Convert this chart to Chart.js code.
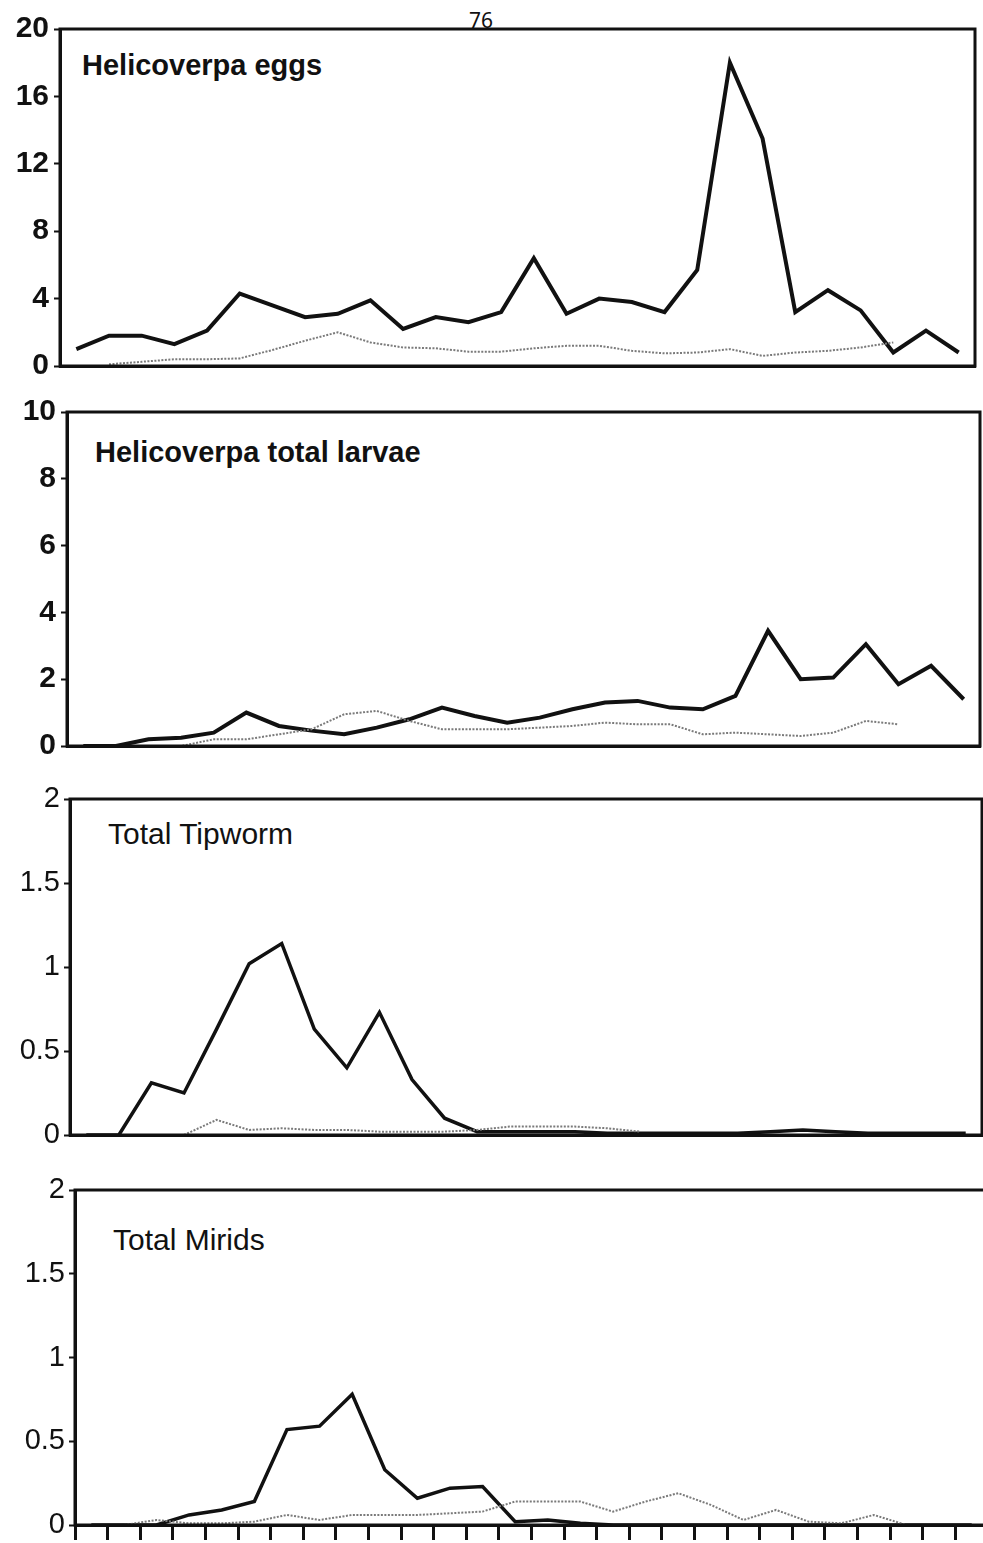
<!DOCTYPE html>
<html>
<head>
<meta charset="utf-8">
<script src="https://cdn.jsdelivr.net/npm/chart.js@4.4.1/dist/chart.umd.min.js"></script>
<style>
  html, body { margin: 0; padding: 0; background: #fff; width: 983px; height: 1543px; overflow: hidden; }
  body { position: relative; }
  canvas { position: absolute; left: 0; }
  .title { position: absolute; font-family: "Liberation Sans", Arial, sans-serif; color: #111; line-height: 1; white-space: nowrap; }
  #pagenum { position: absolute; left: 451px; width: 60px; text-align: center; top: 10px; font-family: "Noto Sans", sans-serif; font-size: 21px; line-height: 1; color: #111; }
</style>
</head>
<body>
<div id="pagenum">76</div>
<div class="title" style="left:82px; top:51px; font-size:29px; font-weight:bold;">Helicoverpa eggs</div>
<div class="title" style="left:95px; top:438px; font-size:29px; font-weight:bold;">Helicoverpa total larvae</div>
<div class="title" style="left:108px; top:819px; font-size:30px;">Total Tipworm</div>
<div class="title" style="left:113px; top:1225px; font-size:30px;">Total Mirids</div>
<canvas id="c1"></canvas>
<canvas id="c2"></canvas>
<canvas id="c3"></canvas>
<canvas id="c4"></canvas>
<script>
// ---- Data ----
const samplingDates = ['1','2','3','4','5','6','7','8','9','10','11','12','13','14',
                       '15','16','17','18','19','20','21','22','23','24','25','26','27','28'];

const eggsBlack = [1.0, 1.8, 1.8, 1.3, 2.1, 4.3, 3.6, 2.9, 3.1, 3.9, 2.2, 2.9, 2.6, 3.2,
                   6.4, 3.1, 4.0, 3.8, 3.2, 5.7, 18.0, 13.5, 3.2, 4.5, 3.3, 0.8, 2.1, 0.8];
const eggsGrey  = [null, 0.1, 0.25, 0.4, 0.4, 0.45, 0.95, 1.5, 2.0, 1.4, 1.1, 1.05, 0.85, 0.85,
                   1.05, 1.2, 1.2, 0.9, 0.75, 0.8, 1.0, 0.6, 0.8, 0.9, 1.1, 1.4, null, null];

const larvaeBlack = [0, 0, 0.2, 0.25, 0.4, 1.0, 0.6, 0.46, 0.35, 0.55, 0.8, 1.15, 0.9, 0.7,
                     0.85, 1.1, 1.3, 1.35, 1.15, 1.1, 1.5, 3.45, 2.0, 2.05, 3.05, 1.85, 2.4, 1.4];
const larvaeGrey  = [null, 0, 0, 0, 0.2, 0.2, 0.35, 0.5, 0.95, 1.05, 0.75, 0.5, 0.5, 0.5,
                     0.55, 0.6, 0.7, 0.65, 0.65, 0.35, 0.4, 0.35, 0.3, 0.4, 0.75, 0.65, null, null];

const tipwormBlack = [0, 0, 0.31, 0.25, 0.63, 1.02, 1.14, 0.63, 0.4, 0.73, 0.33, 0.1, 0.02, 0.02,
                      0.02, 0.02, 0.01, 0.01, 0.01, 0.01, 0.01, 0.02, 0.03, 0.02, 0.01, 0.01, 0.01, 0.01];
const tipwormGrey  = [null, null, null, 0, 0.09, 0.03, 0.04, 0.03, 0.03, 0.02, 0.02, 0.02, 0.03, 0.05,
                      0.05, 0.05, 0.04, 0.02, null, null, null, null, null, null, null, null, null, null];

const miridsBlack = [0, 0, 0, 0.06, 0.09, 0.14, 0.57, 0.59, 0.78, 0.33, 0.16, 0.22, 0.23, 0.02,
                     0.03, 0.01, 0, 0, 0, 0, 0, 0, 0, 0, 0, 0, 0, 0];
const miridsGrey  = [null, 0, 0.03, 0.01, 0.01, 0.02, 0.06, 0.03, 0.06, 0.06, 0.06, 0.07, 0.08, 0.14,
                     0.14, 0.14, 0.08, 0.14, 0.19, 0.12, 0.03, 0.09, 0.02, 0.01, 0.06, 0, null, null];

const eggsTicks = [0, 4, 8, 12, 16, 20];
const larvaeTicks = [0, 2, 4, 6, 8, 10];
const smallTicks = [0, 0.5, 1, 1.5, 2];

// ---- Panel layout (page pixels) ----
const CANVAS_W = 1000;
const PAD = 30;

const framePlugin = {
  id: 'frame',
  afterDatasetsDraw(chart) {
    const a = chart.chartArea, ctx = chart.ctx;
    ctx.save();
    ctx.strokeStyle = '#111';
    ctx.lineWidth = 3;
    ctx.strokeRect(a.left, a.top, a.right - a.left, a.bottom - a.top);
    ctx.restore();
  }
};

function makePanel(id, p) {
  const canvas = document.getElementById(id);
  const h = (p.bottom - p.top) + 2 * PAD;
  canvas.width = CANVAS_W; canvas.height = h;
  canvas.style.width = CANVAS_W + 'px'; canvas.style.height = h + 'px';
  canvas.style.top = (p.top - PAD) + 'px';
  const xH = p.showXTicks ? 16 : 0;
  new Chart(canvas, {
    type: 'line',
    data: {
      labels: samplingDates,
      datasets: [
        { data: p.grey, borderColor: '#7a7a7a', borderWidth: 2, borderDash: [2, 1.5],
          pointRadius: 0, tension: 0, spanGaps: false },
        { data: p.black, borderColor: '#111', borderWidth: p.lw, pointRadius: 0,
          tension: 0, borderJoinStyle: 'miter' }
      ]
    },
    options: {
      responsive: false,
      animation: false,
      devicePixelRatio: 1,
      layout: { padding: { top: PAD, bottom: PAD - xH, left: 0, right: CANVAS_W - p.right } },
      plugins: { legend: { display: false }, tooltip: { enabled: false } },
      scales: {
        x: {
          type: 'category',
          offset: true,
          grid: { display: true, drawOnChartArea: false, drawTicks: p.showXTicks, offset: true,
                  tickLength: 15, tickWidth: 3, tickColor: '#111' },
          border: { display: true, width: 3, color: '#111' },
          ticks: { display: p.showXTicks, autoSkip: false, maxRotation: 0, callback: () => '' },
          afterFit: s => { s.height = xH; }
        },
        y: {
          min: 0, max: p.max,
          afterBuildTicks: s => { s.ticks = p.ticks.map(v => ({ value: v })); },
          grid: { drawOnChartArea: false, drawTicks: true, tickLength: 6, tickWidth: 2, tickColor: '#111' },
          border: { display: true, width: 3, color: '#111' },
          ticks: { color: '#111', padding: p.tpad, callback: v => String(v),
                   font: { family: 'Liberation Sans, Arial, sans-serif', size: p.fs, weight: p.fw } },
          afterFit: s => { s.width = p.left; }
        }
      }
    },
    plugins: [framePlugin]
  });
}

makePanel('c1', { left: 60, right: 975, top: 29, bottom: 366, max: 20, ticks: eggsTicks,
                  black: eggsBlack, grey: eggsGrey, lw: 4, fs: 30, fw: 'bold', tpad: 5, showXTicks: false });
makePanel('c2', { left: 67, right: 980, top: 412, bottom: 746, max: 10, ticks: larvaeTicks,
                  black: larvaeBlack, grey: larvaeGrey, lw: 4, fs: 30, fw: 'bold', tpad: 5, showXTicks: false });
makePanel('c3', { left: 70, right: 982, top: 799, bottom: 1135, max: 2, ticks: smallTicks,
                  black: tipwormBlack, grey: tipwormGrey, lw: 3.5, fs: 29, fw: 'normal', tpad: 4, showXTicks: false });
makePanel('c4', { left: 75, right: 988, top: 1190, bottom: 1525, max: 2, ticks: smallTicks,
                  black: miridsBlack, grey: miridsGrey, lw: 3.5, fs: 29, fw: 'normal', tpad: 4, showXTicks: true });
</script>
</body>
</html>
